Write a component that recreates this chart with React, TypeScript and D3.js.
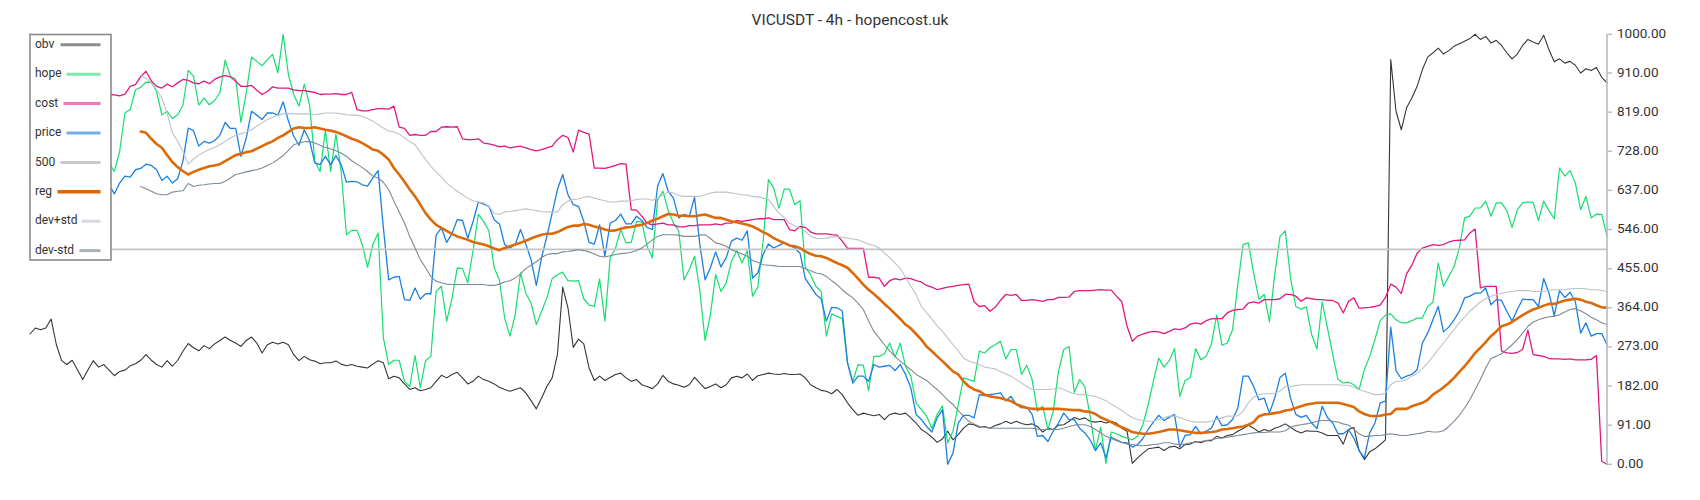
import React from "react";
import * as d3 from "d3";

// ---------- data (values 0..1000) ----------
const title = "VICUSDT - 4h - hopencost.uk";
const yTicks = [0, 91, 182, 273, 364, 455, 546, 637, 728, 819, 910, 1000];
const seriesNames = ["obv", "hope", "cost", "price", "500", "reg", "dev+std", "dev-std"];

const obv = [
  303,317,313,317,338,278,241,232,242,220,197,220,241,226,232,219,206,216,219,229,234,242,255,242,232,226,241,228,242,263,281,271,264,276,269,280,288,296,288,282,274,288,296,282,259,278,284,280,284,278,255,
  241,251,243,240,234,236,236,240,233,229,232,228,226,224,233,241,236,199,205,201,187,174,178,171,174,178,193,207,201,209,214,201,187,193,205,197,193,187,179,174,170,174,178,166,148,129,154,181,201,
  255,412,364,272,291,280,224,195,205,195,202,209,212,201,193,197,185,181,176,187,207,193,187,184,179,185,202,189,176,181,187,178,185,201,205,201,210,195,206,209,212,210,209,211,209,209,210,201,185,178,172,
  170,164,174,162,143,127,114,119,116,113,116,104,116,119,116,119,108,96,81,73,63,51,59,77,57,69,84,94,92,86,88,84,90,94,100,95,100,95,92,94,88,75,84,81,91,92,100,109,104,108,
  100,98,100,96,100,96,84,77,2,15,26,36,38,40,32,40,42,36,46,47,53,50,55,55,65,61,67,69,77,83,91,84,75,81,77,84,88,94,86,78,73,78,77,77,73,67,67,67,47,
  81,86,32,11,29,36,46,57,941,821,778,829,852,879,918,947,957,968,954,962,972,978,984,990,1000,988,995,980,986,974,957,943,954,974,988,982,977,998,964,936,943,933,937,928,910,920,916,923,900,887,
];

const hope = [
  658,700,740,720,760,790,750,780,820,770,740,790,760,720,740,700,
  681,728,817,825,871,877,889,888,867,812,821,804,813,835,916,902,835,852,836,846,864,940,902,896,795,864,947,937,927,941,953,910,1000,906,860,
  833,884,836,705,681,776,681,768,681,534,544,544,511,458,511,538,294,232,242,242,193,181,253,178,241,251,402,414,333,385,457,455,422,497,581,565,543,458,428,340,298,348,445,398,375,325,356,387,432,441,
  447,427,426,427,385,370,367,431,333,480,502,546,515,516,565,564,507,480,616,635,590,561,543,429,453,484,404,288,348,441,402,422,472,497,468,497,391,412,519,662,643,595,640,640,604,613,458,441,414,402,
  298,350,344,339,236,193,232,230,171,251,251,257,282,249,282,228,205,143,127,112,84,116,136,50,77,139,201,197,193,263,259,271,278,286,245,267,267,209,230,197,123,135,81,123,216,267,274,167,197,180,
  112,32,86,2,75,71,65,61,57,65,92,139,193,247,226,241,269,158,195,202,269,243,251,280,347,277,282,313,418,511,515,445,384,395,331,441,530,543,433,367,361,366,302,268,378,317,255,197,189,191,
  185,174,220,251,290,334,347,350,336,329,329,334,340,340,367,377,468,414,437,460,503,573,577,596,596,612,577,608,608,590,551,592,608,610,609,567,612,590,571,689,670,683,654,592,623,573,582,581,530,
];

const cost = [
  1000,985,965,945,930,918,905,895,885,878,872,868,865,862,860,860,
  859,857,861,879,883,902,914,892,879,875,884,878,887,895,893,887,885,891,885,895,901,904,901,891,879,879,881,870,860,867,878,875,875,875,871,
  869,869,867,865,860,861,861,862,860,860,865,825,822,822,825,827,827,826,833,784,781,765,767,765,765,774,774,784,785,784,785,757,755,755,757,747,745,742,738,740,736,738,740,736,732,729,732,736,740,755,
  765,760,726,777,772,768,689,689,688,691,695,699,698,592,591,577,561,557,559,561,557,557,552,552,555,555,557,557,557,559,557,561,561,567,565,567,569,571,571,573,569,569,569,546,543,553,551,540,536,536,
  536,534,533,519,502,502,502,502,435,435,433,414,427,432,429,433,432,427,424,416,412,406,409,412,414,416,418,419,378,367,369,356,365,381,395,393,395,381,381,383,381,379,383,383,388,388,389,402,404,404,
  404,405,406,405,405,391,378,321,286,298,303,307,309,308,304,309,315,313,317,326,329,326,334,338,339,339,352,358,360,361,375,378,375,383,383,383,385,395,395,391,379,387,385,383,383,381,381,375,352,379,
  387,363,364,365,367,370,388,419,412,397,443,463,491,503,507,511,509,511,517,520,521,522,538,547,410,414,414,414,264,259,258,260,267,312,255,253,251,246,245,245,244,245,243,243,243,244,253,7,0,
];

const price = [
  790,770,750,760,735,720,740,710,700,715,690,680,690,670,660,650,
  629,654,670,668,685,688,698,695,685,660,670,654,664,705,782,776,740,751,747,753,765,795,781,781,716,759,821,812,802,817,817,812,843,798,763,
  742,778,753,701,697,716,697,718,697,656,658,657,650,647,666,683,550,429,435,437,383,381,410,384,397,396,533,550,516,536,569,567,526,564,610,605,600,569,559,511,503,511,546,512,476,416,481,530,584,639,
  674,627,604,600,565,516,512,557,484,561,567,582,559,559,577,567,551,546,647,676,635,619,573,581,577,621,511,429,457,494,459,480,519,526,521,543,433,445,488,512,503,509,515,509,503,491,432,414,395,385,
  333,365,364,357,236,189,205,205,193,232,226,228,230,218,232,209,178,116,104,88,75,108,127,0,26,96,114,114,108,162,160,162,164,166,148,158,139,131,133,116,65,67,53,77,96,119,104,104,84,73,
  57,32,50,15,63,57,51,50,40,46,60,81,98,114,102,109,116,40,67,69,88,71,77,84,112,90,92,104,131,205,205,181,150,154,119,154,202,212,154,116,109,114,96,83,135,109,96,71,71,81,
  61,32,15,73,96,143,147,319,218,199,205,209,220,282,305,336,367,308,319,336,356,387,391,398,398,410,371,383,381,356,333,360,384,383,383,367,432,398,346,404,388,400,378,305,329,298,304,304,278,
];

const LEVEL_500 = 500; // constant horizontal reference series "500"

// reg / dev bands start at candle 21
const bandStart = 21;
const reg = [
  774,771,757,745,736,719,703,691,682,674,680,685,689,693,695,698,705,712,719,722,726,728,734,740,746,751,759,765,773,781,
  784,782,782,784,781,778,776,773,768,763,757,753,747,740,732,729,720,709,689,674,657,639,623,604,584,569,557,550,543,536,530,526,522,517,514,511,507,502,498,503,507,511,515,520,525,530,534,536,536,540,
  546,552,555,555,559,557,553,550,546,543,544,548,551,552,555,557,561,567,571,577,582,581,578,578,577,577,579,581,577,573,573,569,565,563,560,557,553,547,540,534,526,520,515,509,507,503,495,489,485,484,
  480,474,468,463,457,445,432,418,406,396,385,373,362,350,338,325,316,303,290,274,263,251,240,228,216,209,193,181,174,170,162,158,156,154,150,147,140,135,131,129,129,129,129,129,129,128,127,126,126,123,
  122,117,109,104,98,92,86,81,75,73,71,71,73,75,78,81,81,79,77,75,73,73,74,75,77,81,82,84,86,88,92,98,112,116,117,119,121,125,127,131,135,139,141,143,143,143,143,143,140,137,
  133,123,117,113,112,113,116,117,129,129,129,135,139,143,150,162,170,179,189,201,215,228,243,259,271,284,298,309,321,325,331,339,347,354,360,364,369,373,373,377,381,383,385,383,378,375,370,365,364,
];

const devPlus = [
  904,898,887,871,852,817,771,751,728,698,710,719,726,732,737,743,751,759,765,769,773,778,786,794,802,807,812,815,816,815,
  815,815,815,813,815,817,817,817,815,813,812,812,809,804,798,790,782,775,773,768,759,751,743,726,709,693,680,668,654,644,635,627,619,613,610,608,600,584,581,587,588,590,592,594,592,590,588,587,587,587,
  604,612,616,617,621,623,619,616,613,610,610,612,612,613,616,617,617,614,619,627,633,631,625,623,623,623,623,627,631,633,633,633,631,629,627,626,623,622,619,616,600,584,574,561,555,550,542,530,526,525,
  526,529,529,528,526,524,522,517,512,509,503,491,481,468,455,435,414,395,367,352,338,322,309,294,278,264,247,240,236,232,226,224,222,216,210,205,197,189,181,174,174,174,174,175,178,174,168,164,162,162,
  160,158,153,148,140,133,125,116,109,104,102,100,100,104,108,112,112,109,104,100,98,98,98,100,104,108,112,112,113,123,143,156,162,164,164,166,170,181,181,183,185,185,185,185,185,185,185,185,184,184,
  179,174,170,166,162,162,166,185,193,193,197,205,212,222,236,251,267,282,298,313,329,342,356,367,378,385,391,395,398,400,402,404,404,404,402,402,402,404,406,406,406,408,409,409,408,406,406,404,402,
];

const devMinus = [
  646,641,635,629,627,627,633,635,636,653,646,649,650,652,653,653,658,666,674,677,680,683,685,689,695,701,709,718,730,743,
  747,750,751,747,742,737,734,729,724,716,706,698,690,681,670,666,656,639,612,587,561,530,503,476,457,437,426,422,419,418,418,418,418,418,418,418,416,416,419,424,427,433,443,455,463,471,481,488,490,490,
  494,495,497,499,497,494,489,484,482,485,488,490,491,493,497,503,512,522,530,534,534,534,533,530,530,530,533,534,525,515,512,507,499,494,489,484,474,470,464,463,462,460,460,460,460,460,455,450,445,443,
  437,427,418,406,396,387,375,360,333,309,294,278,264,251,240,230,220,209,202,195,184,174,162,150,139,125,112,100,94,88,86,84,84,84,84,84,84,84,84,84,82,81,81,81,81,84,88,91,92,92,
  88,81,73,65,60,55,51,47,46,44,43,44,46,47,50,50,47,46,47,50,52,53,55,57,60,61,63,65,67,69,71,73,74,74,75,75,75,78,86,90,92,94,96,100,102,102,100,98,94,91,
  81,71,65,65,67,67,69,71,69,67,67,69,71,73,77,75,75,78,88,100,114,131,150,174,197,224,246,251,257,267,278,290,305,321,331,336,340,343,344,348,354,360,362,357,350,342,336,329,325,
];

// ---------- layout / style ----------
const W = 1700;
const H = 500;
const PLOT_LEFT = 30;
const PLOT_RIGHT = 1607;
const PLOT_TOP = 34.3;
const PLOT_BOTTOM = 464.3;
const FONT = "Roboto, 'Noto Sans', sans-serif";

const lineStyles: Record<string, { color: string; width: number; legend: string; lw: number; start: number }> = {
  obv: { color: "#363636", width: 1.1, legend: "#8d8d8d", lw: 3, start: 60.5 },
  hope: { color: "#17dc72", width: 1.2, legend: "#7fe9aa", lw: 3, start: 66.5 },
  cost: { color: "#e2187f", width: 1.3, legend: "#ef78b6", lw: 3, start: 63.5 },
  price: { color: "#1b80e0", width: 1.3, legend: "#70b0ea", lw: 3, start: 66.5 },
  "500": { color: "#c4c4c4", width: 1.8, legend: "#c8c8c8", lw: 3, start: 60.5 },
  reg: { color: "#dc6a0a", width: 2.6, legend: "#d9660b", lw: 3.4, start: 57.5 },
  "dev+std": { color: "#bcc3c9", width: 1.1, legend: "#d6dade", lw: 3, start: 81.5 },
  "dev-std": { color: "#7e8a95", width: 1.1, legend: "#a9b1b9", lw: 3, start: 79.5 },
};

export default function App() {
  const N = obv.length;
  const x = d3.scaleLinear().domain([0, N - 1]).range([PLOT_LEFT, PLOT_RIGHT]);
  const y = d3.scaleLinear().domain([0, 1000]).range([PLOT_BOTTOM, PLOT_TOP]);

  const path = (vals: number[], offset = 0) =>
    d3
      .line<number>()
      .x((_, i) => x(i + offset))
      .y((d) => y(d))(vals) || "";

  const seriesPaths: { name: string; d: string }[] = [
    { name: "obv", d: path(obv) },
    { name: "hope", d: path(hope) },
    { name: "cost", d: path(cost) },
    { name: "price", d: path(price) },
    { name: "500", d: d3.line<number>().x((d) => x(d)).y(() => y(LEVEL_500))([0, N - 1]) || "" },
    { name: "reg", d: path(reg, bandStart) },
    { name: "dev+std", d: path(devPlus, bandStart) },
    { name: "dev-std", d: path(devMinus, bandStart) },
  ];

  const legendX = 30;
  const legendY = 34.5;
  const legendW = 81;
  const legendH = 225.5;
  const rowY0 = 44.8;
  const rowStep = 29.4;

  return (
    <div style={{ position: "absolute", left: 0, top: 0, width: W, height: H, background: "#fff" }}>
      <svg width={W} height={H} viewBox={`0 0 ${W} ${H}`} style={{ display: "block", fontFamily: FONT }}>
        <rect x={0} y={0} width={W} height={H} fill="#fff" />
        <text x={850} y={21} textAnchor="middle" dominantBaseline="middle" fontSize={15.5} fontWeight={400} fill="#333">
          {title}
        </text>

        {seriesPaths.map((s) => (
          <path
            key={s.name}
            d={s.d}
            fill="none"
            stroke={lineStyles[s.name].color}
            strokeWidth={lineStyles[s.name].width}
            strokeLinejoin="round"
            strokeLinecap="round"
          />
        ))}

        {/* right axis */}
        <line x1={PLOT_RIGHT} x2={PLOT_RIGHT} y1={y(1000)} y2={y(0)} stroke="#b3bdc5" strokeWidth={1.6} />
        {yTicks.map((t) => (
          <g key={t}>
            <line x1={PLOT_RIGHT} x2={PLOT_RIGHT + 5} y1={y(t)} y2={y(t)} stroke="#b3bdc5" strokeWidth={1.4} />
            <text x={1617} y={y(t)} dominantBaseline="middle" fontSize={13.5} fill="#333">
              {t.toFixed(2)}
            </text>
          </g>
        ))}

        {/* legend */}
        <rect x={legendX} y={legendY} width={legendW} height={legendH} fill="#fff" stroke="#8a8a8a" strokeWidth={1.6} />
        {seriesNames.map((name, k) => {
          const st = lineStyles[name];
          const cy = rowY0 + k * rowStep;
          return (
            <g key={name}>
              <text x={35} y={cy} dominantBaseline="middle" fontSize={12} fill="#333">
                {name}
              </text>
              <line x1={st.start} x2={100.5} y1={cy} y2={cy} stroke={st.legend} strokeWidth={st.lw} />
            </g>
          );
        })}
      </svg>
    </div>
  );
}
